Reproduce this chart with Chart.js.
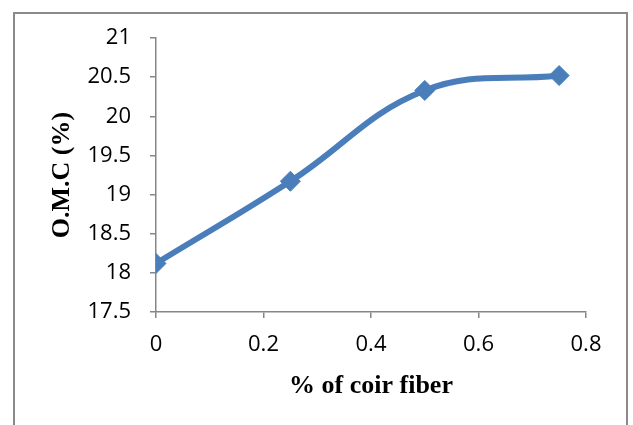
<!DOCTYPE html>
<html>
<head>
<meta charset="utf-8">
<script src="https://cdn.jsdelivr.net/npm/chart.js@4/dist/chart.umd.min.js"></script>
<style>
    html, body { margin: 0; padding: 0; background: #fff; }
    #wrap { position: relative; width: 633px; height: 425px; overflow: hidden; }
    #frame {
        position: absolute; left: 13px; top: 12px; width: 615px; height: 440px;
        border: 2px solid #8a8a8a; box-sizing: border-box;
    }
    #omcChart { position: absolute; left: 0; top: 0; }
</style>
</head>
<body>
<div id="wrap">
    <div id="frame"></div>
    <canvas id="omcChart" width="633" height="425"></canvas>
</div>
<script>
// coir fiber content (%) against optimum moisture content (%)
const fiberContent = [0, 0.25, 0.5, 0.75];
const omcValues = [18.12, 19.17, 20.33, 20.52];
const xTicks = [0, 0.2, 0.4, 0.6, 0.8];
const yTicks = [17.5, 18, 18.5, 19, 19.5, 20, 20.5, 21];

const axisGray = '#868686';
const lineBlue = '#4a7ebb';

function buildPoints(xs, ys) {
    return xs.map((x, i) => ({ x: x, y: ys[i] }));
}

function renderOmcChart() {
    const ctx = document.getElementById('omcChart').getContext('2d');
    new Chart(ctx, {
        type: 'scatter',
        data: {
            datasets: [{
                label: 'O.M.C',
                data: buildPoints(fiberContent, omcValues),
                showLine: true,
                tension: 0.4,
                borderColor: lineBlue,
                borderWidth: 6,
                backgroundColor: lineBlue,
                pointStyle: 'rectRot',
                pointRadius: 10,
                pointBorderWidth: 1,
                pointBorderColor: lineBlue
            }]
        },
        options: {
            responsive: false,
            animation: false,
            layout: { padding: { left: 0, top: 38, right: 47, bottom: 0 } },
            plugins: {
                legend: { display: false },
                tooltip: { enabled: false }
            },
            scales: {
                x: {
                    type: 'linear',
                    min: xTicks[0],
                    max: xTicks[xTicks.length - 1],
                    afterBuildTicks: (scale) => { scale.ticks = xTicks.map(v => ({ value: v })); },
                    afterFit: (scale) => { scale.height = 113; },
                    border: { color: axisGray, width: 1.5 },
                    grid: { drawOnChartArea: false, drawTicks: true, tickLength: 6, color: axisGray, lineWidth: 1.5 },
                    ticks: {
                        padding: 14,
                        color: '#000',
                        font: { family: 'Open Sans', size: 22 },
                        callback: (v) => String(v)
                    },
                    title: {
                        display: true,
                        text: '% of coir fiber',
                        color: '#000',
                        font: { family: 'Liberation Serif', size: 26, weight: 'bold' },
                        padding: { top: 0, bottom: 23 }
                    }
                },
                y: {
                    type: 'linear',
                    min: yTicks[0],
                    max: yTicks[yTicks.length - 1],
                    afterBuildTicks: (scale) => { scale.ticks = yTicks.map(v => ({ value: v })); },
                    afterFit: (scale) => { scale.width = 156; },
                    border: { color: axisGray, width: 1.5 },
                    grid: { drawOnChartArea: false, drawTicks: true, tickLength: 6, color: axisGray, lineWidth: 1.5 },
                    ticks: {
                        padding: 19,
                        color: '#000',
                        font: { family: 'Open Sans', size: 22 },
                        callback: (v) => String(v)
                    },
                    title: {
                        display: true,
                        text: 'O.M.C (%)',
                        color: '#000',
                        font: { family: 'Liberation Serif', size: 26, weight: 'bold' },
                        padding: { top: 47, bottom: 0 }
                    }
                }
            }
        }
    });
}

renderOmcChart();
</script>
</body>
</html>
